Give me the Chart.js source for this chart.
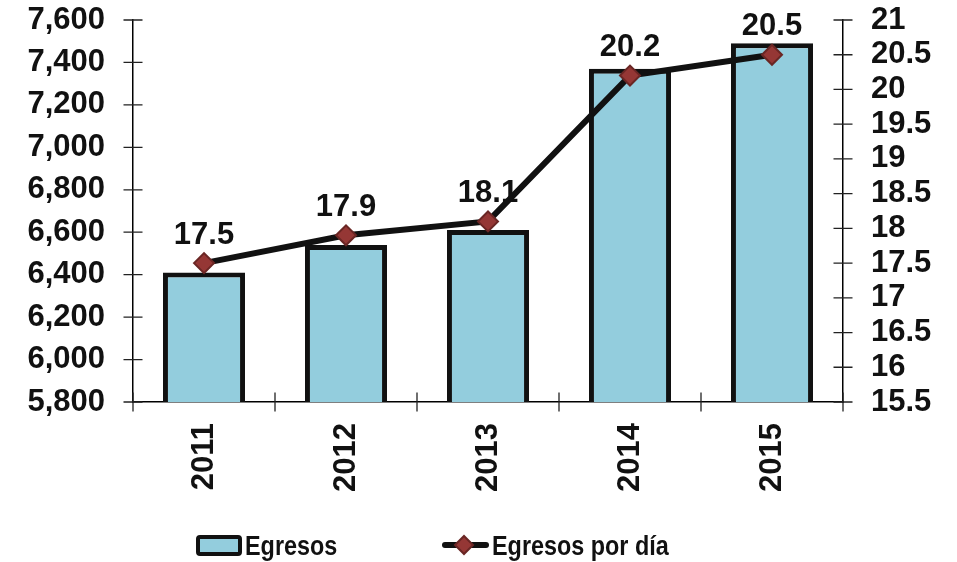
<!DOCTYPE html>
<html><head><meta charset="utf-8">
<script src="https://cdn.jsdelivr.net/npm/chart.js@4.4.1/dist/chart.umd.min.js"></script>
<style>html,body{margin:0;padding:0;background:#fff;}#wrap{width:957px;height:562px;position:relative;}</style>
</head><body><div id="wrap"><canvas id="c" width="957" height="562"></canvas></div>
<script>
// ---- data ----
const categories = ['2011', '2012', '2013', '2014', '2015'];
const egresos = [6410, 6540, 6610, 7370, 7490];
const egresosPorDia = [17.5, 17.9, 18.1, 20.2, 20.5];
const leftTicks = [5800, 6000, 6200, 6400, 6600, 6800, 7000, 7200, 7400, 7600];
const rightTicks = [15.5, 16, 16.5, 17, 17.5, 18, 18.5, 19, 19.5, 20, 20.5, 21];
const seriesNames = ['Egresos', 'Egresos por día'];

// ---- styles ----
const FONT = '"Liberation Sans", Arial, Helvetica, sans-serif';
const BAR_FILL = '#93CDDD';
const INK = '#111111';
const DIAMOND_FILL = '#953735';
const DIAMOND_EDGE = '#6A2624';
const TICK_FONT = { size: 31, weight: 'bold' };

const axisTicksPlugin = {
  id: 'axisTicks',
  afterDraw(chart) {
    const ctx = chart.ctx;
    const half = 9.5;
    ctx.save();
    ctx.strokeStyle = '#222';
    ctx.lineWidth = 1.3;
    const yl = chart.scales.y, yr = chart.scales.y1, x = chart.scales.x;
    ctx.beginPath();
    yl.ticks.forEach(t => { const p = yl.getPixelForValue(t.value); ctx.moveTo(yl.right - half, p); ctx.lineTo(yl.right + half, p); });
    yr.ticks.forEach(t => { const p = yr.getPixelForValue(t.value); ctx.moveTo(yr.left - half, p); ctx.lineTo(yr.left + half, p); });
    for (let i = 0; i <= categories.length; i++) {
      const p = x.getPixelForValue(i - 0.5);
      ctx.moveTo(p, x.top - half); ctx.lineTo(p, x.top + half);
    }
    ctx.stroke();
    ctx.restore();
  }
};

const valueLabelsPlugin = {
  id: 'valueLabels',
  afterDatasetsDraw(chart) {
    const ctx = chart.ctx;
    const meta = chart.getDatasetMeta(1);
    ctx.save();
    ctx.font = 'bold 31px ' + FONT;
    ctx.fillStyle = INK;
    ctx.textAlign = 'center';
    ctx.textBaseline = 'middle';
    meta.data.forEach((el, i) => {
      ctx.fillText(egresosPorDia[i].toFixed(1), el.x, el.y - 28);
    });
    ctx.restore();
  }
};

const legendPlugin = {
  id: 'customLegend',
  afterDraw(chart) {
    const ctx = chart.ctx;
    const cy = 545;
    ctx.save();
    ctx.fillStyle = BAR_FILL;
    ctx.strokeStyle = INK;
    ctx.lineWidth = 4;
    ctx.beginPath();
    ctx.roundRect(198, 537, 42, 17, 2);
    ctx.fill(); ctx.stroke();
    ctx.strokeStyle = INK;
    ctx.lineWidth = 6;
    ctx.lineCap = 'round';
    ctx.beginPath(); ctx.moveTo(445, cy); ctx.lineTo(486, cy); ctx.stroke();
    ctx.beginPath();
    const r = 9, mx = 464;
    ctx.moveTo(mx - r, cy); ctx.lineTo(mx, cy - r); ctx.lineTo(mx + r, cy); ctx.lineTo(mx, cy + r); ctx.closePath();
    ctx.fillStyle = DIAMOND_FILL; ctx.fill();
    ctx.strokeStyle = DIAMOND_EDGE; ctx.lineWidth = 2; ctx.stroke();
    ctx.fillStyle = INK;
    ctx.font = 'bold 28px ' + FONT;
    ctx.textBaseline = 'alphabetic';
    ctx.textAlign = 'left';
    [[245, seriesNames[0]], [492, seriesNames[1]]].forEach(([tx, txt]) => {
      ctx.save();
      ctx.translate(tx, 555);
      ctx.scale(0.835, 1);
      ctx.fillText(txt, 0, 0);
      ctx.restore();
    });
    ctx.restore();
  }
};

Chart.defaults.font.family = FONT;
Chart.defaults.font.weight = 'bold';
Chart.defaults.font.size = 31;
Chart.defaults.color = INK;

new Chart(document.getElementById('c'), {
  data: {
    labels: categories,
    datasets: [
      {
        type: 'bar', label: seriesNames[0], data: egresos, yAxisID: 'y', order: 2,
        backgroundColor: BAR_FILL, borderColor: INK, borderWidth: 5, borderSkipped: false,
        barPercentage: 0.578, categoryPercentage: 1
      },
      {
        type: 'line', label: seriesNames[1], data: egresosPorDia, yAxisID: 'y1', order: 1,
        borderColor: INK, borderWidth: 6, tension: 0, fill: false,
        pointStyle: 'rectRot', pointRadius: 10, pointHoverRadius: 10,
        pointBackgroundColor: DIAMOND_FILL, pointBorderColor: DIAMOND_EDGE, pointBorderWidth: 2
      }
    ]
  },
  options: {
    responsive: false,
    devicePixelRatio: 1,
    animation: false,
    layout: { padding: { top: 20, bottom: 0, left: 0, right: 0 } },
    plugins: { legend: { display: false }, tooltip: { enabled: false } },
    scales: {
      x: {
        type: 'category', offset: true,
        grid: { display: false, drawTicks: false },
        border: { display: true, color: '#000', width: 1.5 },
        ticks: { minRotation: 90, maxRotation: 90, padding: 21, autoSkip: false, font: TICK_FONT },
        afterFit(s) { s.height = 160; s.paddingLeft = 0; s.paddingRight = 0; }
      },
      y: {
        type: 'linear', position: 'left',
        min: leftTicks[0], max: leftTicks[leftTicks.length - 1],
        grid: { display: false, drawTicks: false },
        border: { display: true, color: '#000', width: 1.5 },
        afterBuildTicks(s) { s.ticks = leftTicks.map(v => ({ value: v })); },
        ticks: { padding: 28, autoSkip: false, callback: v => Number(v).toLocaleString('en-US'), font: TICK_FONT },
        afterFit(s) { s.width = 133; s.paddingTop = 0; s.paddingBottom = 0; }
      },
      y1: {
        type: 'linear', position: 'right',
        min: rightTicks[0], max: rightTicks[rightTicks.length - 1],
        grid: { display: false, drawTicks: false },
        border: { display: true, color: '#000', width: 1.5 },
        afterBuildTicks(s) { s.ticks = rightTicks.map(v => ({ value: v })); },
        ticks: { padding: 28, autoSkip: false, callback: v => String(v), font: TICK_FONT },
        afterFit(s) { s.width = 114; s.paddingTop = 0; s.paddingBottom = 0; }
      }
    }
  },
  plugins: [axisTicksPlugin, valueLabelsPlugin, legendPlugin]
});
</script>
</body></html>
